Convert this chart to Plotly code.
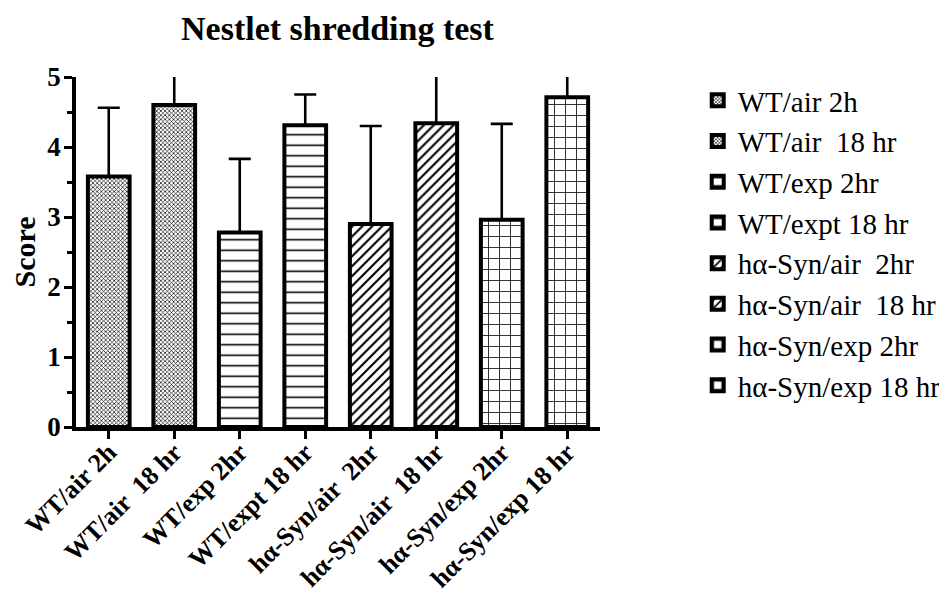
import plotly.graph_objects as go

categories = ["WT/air 2h", "WT/air  18 hr", "WT/exp 2hr", "WT/expt 18 hr",
              "hα-Syn/air  2hr", "hα-Syn/air  18 hr", "hα-Syn/exp 2hr", "hα-Syn/exp 18 hr"]
legend_labels = ["WT/air 2h", "WT/air  18 hr", "WT/exp 2hr", "WT/expt 18 hr",
                 "hα-Syn/air  2hr", "hα-Syn/air  18 hr", "hα-Syn/exp 2hr", "hα-Syn/exp 18 hr"]
scores = [3.58, 4.60, 2.78, 4.31, 2.90, 4.34, 2.96, 4.71]
errors_up = [0.98, 0.62, 1.05, 0.44, 1.40, 0.90, 1.37, 0.55]

patterns = [
    dict(shape="x", size=3, solidity=0.4),
    dict(shape="x", size=3, solidity=0.4),
    dict(shape="-", size=10.5, solidity=0.15),
    dict(shape="-", size=10.5, solidity=0.15),
    dict(shape="/", size=7, solidity=0.3),
    dict(shape="/", size=7, solidity=0.3),
    dict(shape="+", size=11, solidity=0.14),
    dict(shape="+", size=11, solidity=0.14),
]

serif = "Liberation Serif"
fig = go.Figure()
for i, cat in enumerate(categories):
    p = dict(patterns[i])
    p.update(fgcolor="black", bgcolor="white", fillmode="replace")
    fig.add_trace(go.Bar(
        x=[cat], y=[scores[i]], name=legend_labels[i],
        width=0.637,
        legendgroup=f"g{i}",
        marker=dict(color="white", line=dict(color="black", width=4), pattern=p),
        error_y=dict(type="data", array=[errors_up[i]], arrayminus=[0], symmetric=False,
                     thickness=2.6, width=11, color="black"),
    ))

fig.update_layout(
    width=947, height=597,
    paper_bgcolor="white", plot_bgcolor="white",
    margin=dict(l=68, r=355, t=69, b=178, autoexpand=False),
    barmode="overlay",
    title=dict(text="<b>Nestlet shredding test</b>", x=0.499, xref="paper",
               y=1 - 20 / 597, yref="container", xanchor="center", yanchor="middle",
               font=dict(family=serif, size=34, color="black")),
    legend=dict(x=1.1865, xanchor="left", y=1.0057, yanchor="top",
                font=dict(family=serif, size=29, color="black"),
                traceorder="grouped", tracegroupgap=0, bgcolor="rgba(0,0,0,0)",
                maxheight=0.95),
    showlegend=True,
)
fig.update_xaxes(
    type="category", categoryorder="array", categoryarray=categories,
    range=[-0.5, 7.5], automargin=False,
    showline=True, linecolor="black", linewidth=3.5,
    ticks="outside", ticklen=8, tickwidth=2.5, tickcolor="black",
    tickangle=-45, showgrid=False, zeroline=False,
    ticklabelstandoff=-12,
    tickfont=dict(family=serif, size=26, color="black", weight="bold"),
)
fig.update_yaxes(
    range=[0, 5], dtick=1, tick0=0, automargin=False,
    showline=True, linecolor="black", linewidth=3.5,
    ticks="outside", ticklen=8, tickwidth=2.5, tickcolor="black",
    minor=dict(dtick=0.5, ticks="outside", ticklen=5, tickwidth=2.5, tickcolor="black"),
    showgrid=False, zeroline=False,
    ticklabelstandoff=-2,
    tickfont=dict(family=serif, size=27, color="black", weight="bold"),
    title=dict(text="<b>Score</b>", font=dict(family=serif, size=30, color="black"), standoff=12),
)

fig.write_html("out.html")
